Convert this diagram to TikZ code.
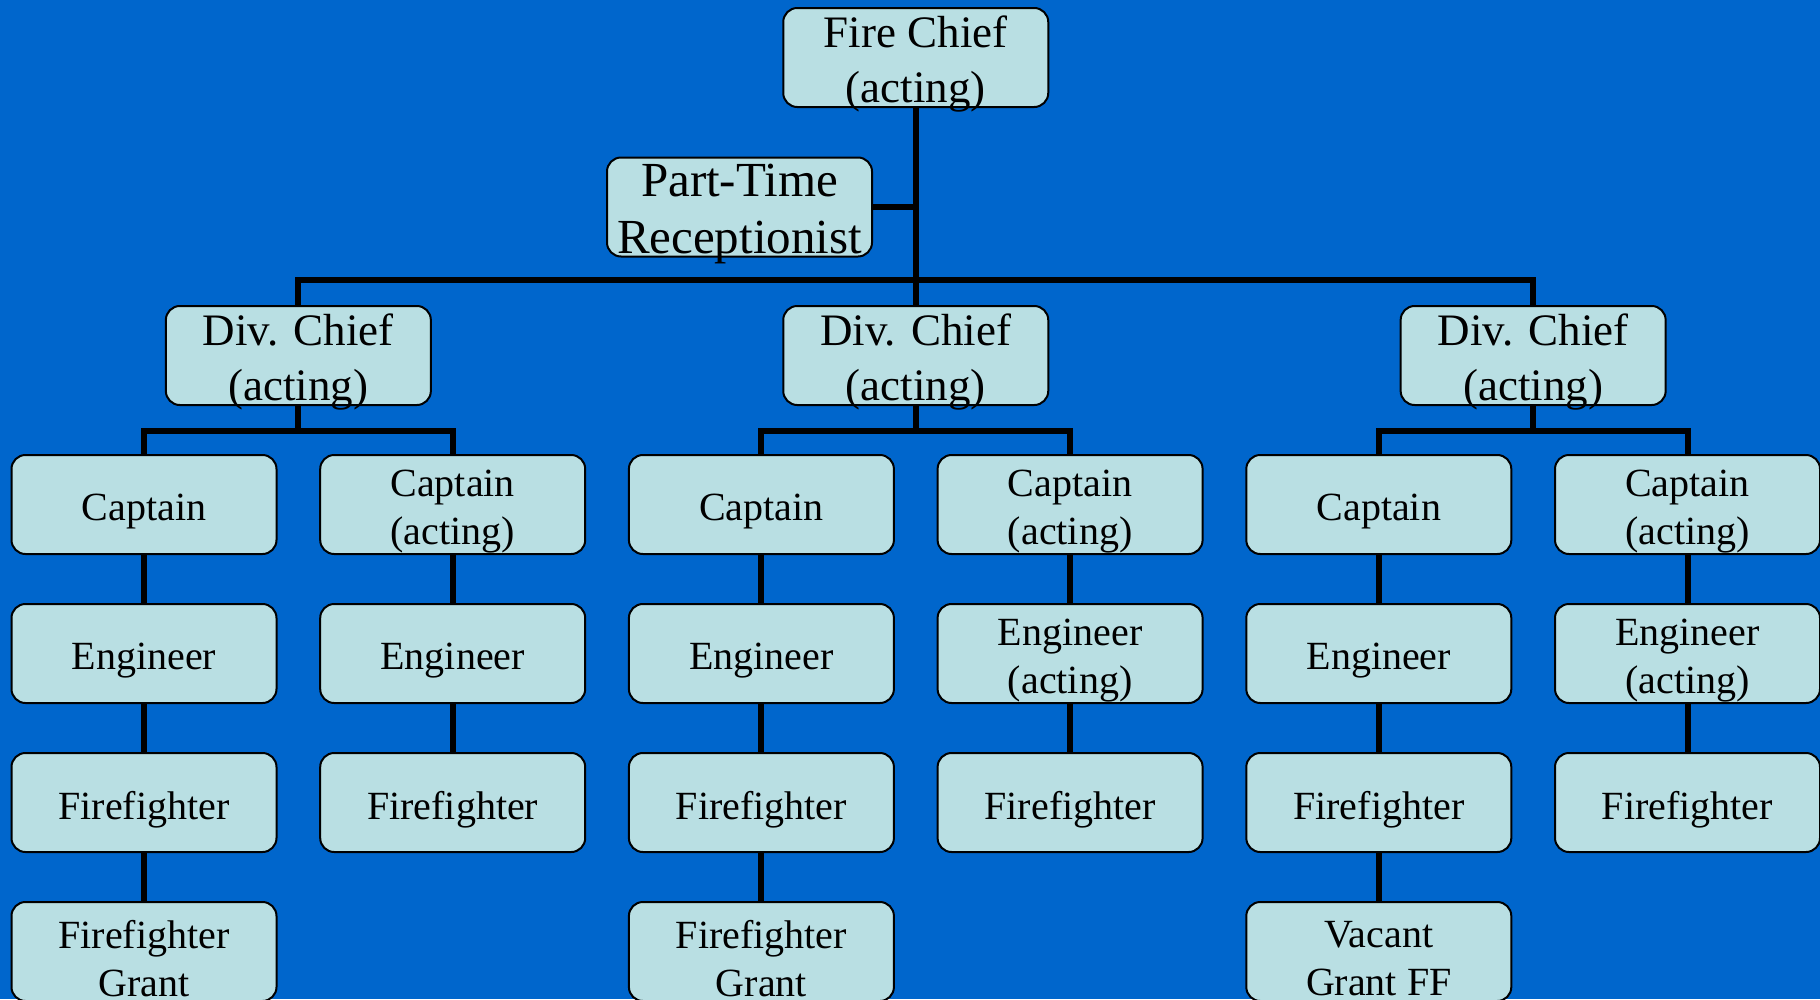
\documentclass[tikz,border=0pt]{standalone}
\usepackage{fontspec}
\setmainfont{Liberation Serif}
\definecolor{bgblue}{RGB}{0,102,204}
\definecolor{boxfill}{RGB}{185,223,227}
\tikzset{
  orgbox/.style={draw=black, line width=2pt, fill=boxfill, rounded corners=14pt,
    minimum width=265pt, minimum height=99pt, inner sep=0pt},
  orgtext/.style={inner sep=0pt, align=center, text=black},
  bigtxt/.style={orgtext, font=\fontsize{45}{55}\selectfont},
  rectxt/.style={orgtext, font=\fontsize{49}{57}\selectfont},
  smalltxt/.style={orgtext, font=\fontsize{40}{48}\selectfont},
  conn/.style={line width=6pt, draw=black, line join=miter}
}
% box node #1 at #3, text style #2, text #4
\newcommand\orgnode[4]{%
  \node[orgbox] (#1) at (#3) {};
  \node[#2] (#1-t) at ([yshift=-7pt]#1.center) {#4};
}
\begin{document}
\begin{tikzpicture}[x=1pt,y=-1pt]
\fill[bgblue] (0,0) rectangle (1820,999);
\useasboundingbox (0,0) rectangle (1820,999);
% connectors (coordinates)
\coordinate (topbar) at (0,280);
\coordinate (subbar) at (0,431);
% top
\orgnode{fc}{bigtxt}{915.75,57.5}{Fire Chief\\(acting)}
\orgnode{rec}{rectxt}{739.5,207}{Part-Time\\Receptionist}
% division chiefs
\orgnode{dc1}{bigtxt}{298.35,355.5}{Div. Chief\\(acting)}
\orgnode{dc2}{bigtxt}{915.75,355.5}{Div. Chief\\(acting)}
\orgnode{dc3}{bigtxt}{1533.15,355.5}{Div. Chief\\(acting)}
% captains
\orgnode{c1}{smalltxt}{144,504.5}{Captain}
\orgnode{c2}{smalltxt}{452.7,504.5}{Captain\\(acting)}
\orgnode{c3}{smalltxt}{761.4,504.5}{Captain}
\orgnode{c4}{smalltxt}{1070.1,504.5}{Captain\\(acting)}
\orgnode{c5}{smalltxt}{1378.8,504.5}{Captain}
\orgnode{c6}{smalltxt}{1687.5,504.5}{Captain\\(acting)}
% engineers
\orgnode{e1}{smalltxt}{144,653.5}{Engineer}
\orgnode{e2}{smalltxt}{452.7,653.5}{Engineer}
\orgnode{e3}{smalltxt}{761.4,653.5}{Engineer}
\orgnode{e4}{smalltxt}{1070.1,653.5}{Engineer\\(acting)}
\orgnode{e5}{smalltxt}{1378.8,653.5}{Engineer}
\orgnode{e6}{smalltxt}{1687.5,653.5}{Engineer\\(acting)}
% firefighters
\orgnode{f1}{smalltxt}{144,802.5}{Firefighter}
\orgnode{f2}{smalltxt}{452.7,802.5}{Firefighter}
\orgnode{f3}{smalltxt}{761.4,802.5}{Firefighter}
\orgnode{f4}{smalltxt}{1070.1,802.5}{Firefighter}
\orgnode{f5}{smalltxt}{1378.8,802.5}{Firefighter}
\orgnode{f6}{smalltxt}{1687.5,802.5}{Firefighter}
% grant
\orgnode{g1}{smalltxt}{144,951.5}{Firefighter\\Grant}
\orgnode{g3}{smalltxt}{761.4,951.5}{Firefighter\\Grant}
\orgnode{g5}{smalltxt}{1378.8,951.5}{Vacant\\Grant FF}
% connectors
\draw[conn] (fc.south) -- (dc2.north);
\draw[conn] (rec.east) -- (rec.east -| fc.south);
\draw[conn] (dc1.north) -- (dc1.north |- topbar) -- (dc3.north |- topbar) -- (dc3.north);
\foreach \d/\a/\b in {dc1/c1/c2, dc2/c3/c4, dc3/c5/c6}{
  \draw[conn] (\d.south) -- (\d.south |- subbar);
  \draw[conn] (\a.north) -- (\a.north |- subbar) -- (\b.north |- subbar) -- (\b.north);
}
\foreach \i in {1,...,6}{
  \draw[conn] (c\i.south) -- (e\i.north);
  \draw[conn] (e\i.south) -- (f\i.north);
}
\draw[conn] (f1.south) -- (g1.north);
\draw[conn] (f3.south) -- (g3.north);
\draw[conn] (f5.south) -- (g5.north);
\end{tikzpicture}
\end{document}
